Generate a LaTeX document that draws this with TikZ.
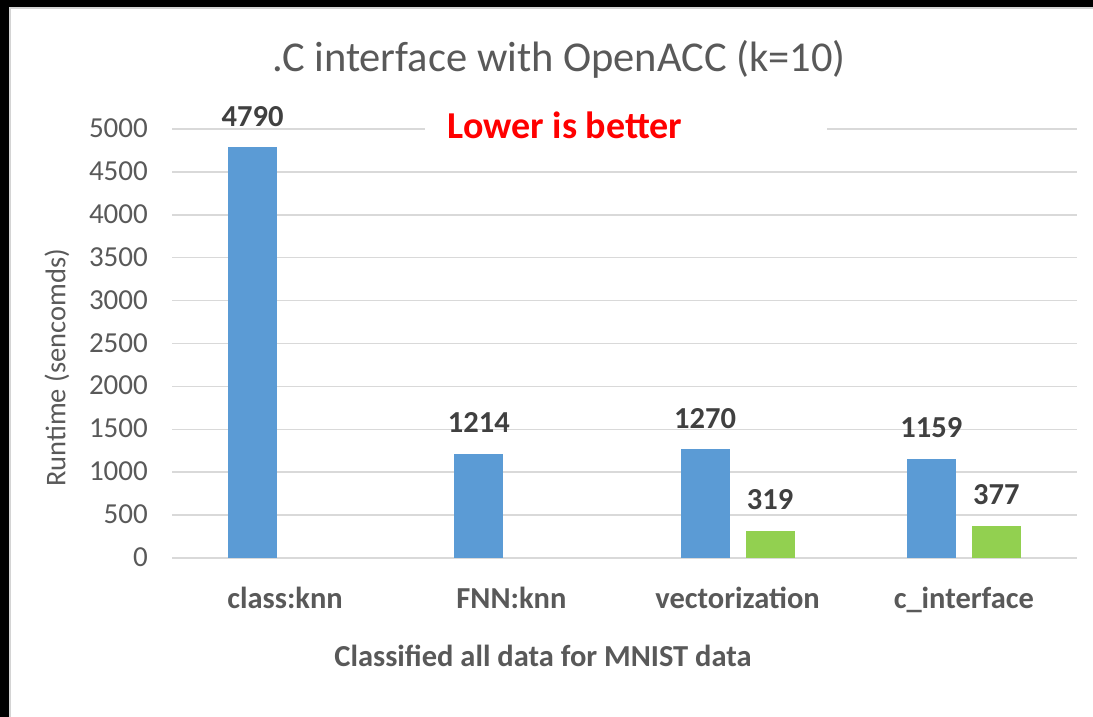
\documentclass[tikz,border=0pt]{standalone}
\usepackage{fontspec}
\setmainfont{Carlito}
\definecolor{barblue}{HTML}{5B9BD5}
\definecolor{bargreen}{HTML}{92D050}
\definecolor{gridgrey}{HTML}{D9D9D9}
\definecolor{textgrey}{HTML}{595959}
\definecolor{valgrey}{HTML}{404040}
\definecolor{framegrey}{HTML}{D4D4D4}
\tikzset{
  gridline/.style={draw=gridgrey, line width=1.5pt},
  tick/.style={anchor=base east, text=textgrey, font=\fontsize{29}{29}\selectfont, inner sep=0pt},
  barblueS/.style={fill=barblue, draw=none},
  bargreenS/.style={fill=bargreen, draw=none},
  vallabel/.style={anchor=base, text=valgrey, font=\fontsize{30.5}{30.5}\selectfont\bfseries, inner sep=0pt},
  catlabel/.style={anchor=base, text=textgrey, font=\fontsize{30.5}{30.5}\selectfont\bfseries, inner sep=0pt},
}
\begin{document}
\begin{tikzpicture}[x=1pt, y=-1pt]
\useasboundingbox (0,0) rectangle (1093,717);
% page frame: dark surround with the white chart panel
\fill[black] (0,0) rectangle (1093,717);
\fill[white] (9,7) rectangle (1093,717);
\draw[framegrey, line width=2pt] (10,717) -- (10,8) -- (1093,8);

% horizontal gridlines, 0 to 5000 in steps of 500
\foreach \k in {0,...,10} {
  \pgfmathsetmacro{\gy}{558-42.9*\k}
  \draw[gridline] (172,\gy) -- (1077,\gy);
  \pgfmathtruncatemacro{\lab}{500*\k}
  \node[tick] (tick\k) at (148,\gy+8.5) {\lab};
}

% note box hiding the top gridline behind the text
\fill[white] (425,116) rectangle (827,146);
\node[anchor=base, text=red, font=\fontsize{38}{38}\selectfont\bfseries, inner sep=0pt] (note) at (565,139) {Lower is better};

% title and axis titles
\node[anchor=base, text=textgrey, font=\fontsize{42.5}{42.5}\selectfont, inner sep=0pt] (title) at (559,72) {.C interface with OpenACC (k=10)};
\node[anchor=base, text=textgrey, font=\fontsize{30.5}{30.5}\selectfont\bfseries, inner sep=0pt] (xtitle) at (543,666) {Classified all data for MNIST data};
\node[rotate=90, text=textgrey, font=\fontsize{28.5}{28.5}\selectfont, inner sep=0pt] (ytitle) at (57,368) {Runtime (sencomds)};

% bars: category centre, value, label
\foreach \i/\c/\blue/\green/\name in {
  0/285.1/4790/0/class:knn,
  1/511.4/1214/0/FNN:knn,
  2/737.6/1270/319/vectorization,
  3/963.9/1159/377/c\_interface} {
  \pgfmathsetmacro{\bt}{558-0.0858*\blue}
  \fill[barblueS] (\c-57,558) rectangle (\c-8,\bt);
  \node[vallabel] (vb\i) at (\c-32.5,\bt-21) {\blue};
  \ifnum\green>0
    \pgfmathsetmacro{\gt}{558-0.0858*\green}
    \fill[bargreenS] (\c+8,558) rectangle (\c+57,\gt);
    \node[vallabel] (vg\i) at (\c+32.5,\gt-21) {\green};
  \fi
  \node[catlabel] (cat\i) at (\c,608) {\name};
}
\end{tikzpicture}
\end{document}
